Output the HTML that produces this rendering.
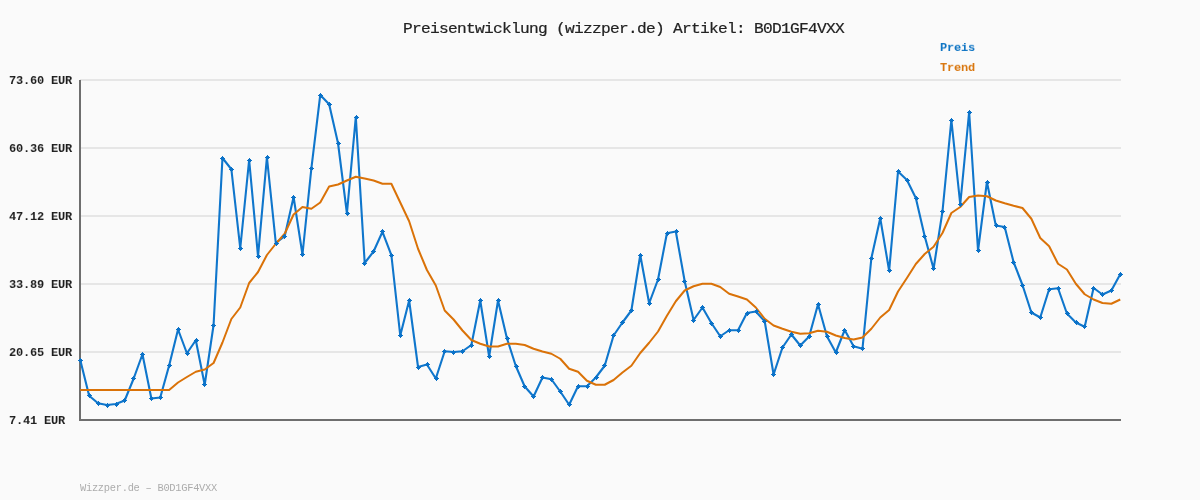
<!DOCTYPE html>
<html><head><meta charset="utf-8"><title>Preisentwicklung</title>
<style>
html,body{margin:0;padding:0;}
body{width:1200px;height:500px;background:#fafafa;position:relative;overflow:hidden;font-family:"Liberation Mono",monospace;}
.title,.yl,.lg,.ft{will-change:transform;}
.title{position:absolute;left:402.6px;top:21px;font-size:14.5px;line-height:17px;color:#222;white-space:pre;letter-spacing:-0.64px;transform:scaleX(1.1165);transform-origin:0 0;-webkit-text-stroke:0.2px #222;}
.yl{position:absolute;left:9.2px;font-size:12px;line-height:16px;font-weight:bold;color:#1e1e1e;white-space:pre;letter-spacing:-0.2px;transform:scaleY(0.889);transform-origin:0 11px;}
.lg{position:absolute;left:939.6px;font-size:12px;line-height:16px;font-weight:bold;white-space:pre;letter-spacing:-0.2px;transform:scaleY(0.889);transform-origin:0 11px;}
.ft{position:absolute;left:80px;top:481.6px;font-size:10.4px;line-height:12px;color:#acacac;white-space:pre;letter-spacing:-0.28px;}
svg{position:absolute;left:0;top:0;}
</style></head><body>
<svg width="1200" height="500" viewBox="0 0 1200 500">
<rect x="80" y="79" width="1041" height="2" fill="#e6e6e6"/><rect x="80" y="147" width="1041" height="2" fill="#e6e6e6"/><rect x="80" y="215" width="1041" height="2" fill="#e6e6e6"/><rect x="80" y="283" width="1041" height="2" fill="#e6e6e6"/><rect x="80" y="351" width="1041" height="2" fill="#e6e6e6"/>
<rect x="79" y="80" width="2" height="341" fill="#6e6e6e"/>
<rect x="79" y="419" width="1042" height="2" fill="#6e6e6e"/>
<polyline points="80.25,360.00 89.14,395.75 98.03,403.25 106.92,405.00 115.81,404.00 124.69,400.50 133.58,378.75 142.47,354.25 151.36,398.50 160.25,397.50 169.14,365.50 178.03,329.50 186.92,353.25 195.81,340.25 204.69,384.75 213.58,325.00 222.47,158.00 231.36,169.25 240.25,248.25 249.14,160.00 258.03,256.25 266.92,157.25 275.81,243.00 284.69,236.25 293.58,197.00 302.47,254.50 311.36,168.50 320.25,95.00 329.14,104.25 338.03,143.25 346.92,213.25 355.81,117.00 364.69,263.00 373.58,251.50 382.47,231.75 391.36,255.00 400.25,335.50 409.14,300.50 418.03,367.00 426.92,364.50 435.81,378.50 444.69,351.25 453.58,352.00 462.47,351.25 471.36,345.00 480.25,300.50 489.14,356.50 498.03,300.50 506.92,338.25 515.81,366.00 524.69,386.50 533.58,396.50 542.47,377.50 551.36,379.25 560.25,391.50 569.14,404.75 578.03,386.25 586.92,386.25 595.81,377.50 604.69,365.75 613.58,335.50 622.47,322.50 631.36,310.50 640.25,255.00 649.14,303.25 658.03,279.50 666.92,233.25 675.81,231.50 684.69,281.25 693.58,320.00 702.47,307.50 711.36,323.00 720.25,336.25 729.14,330.25 738.03,330.25 746.92,313.00 755.81,311.50 764.69,321.25 773.58,374.50 782.47,347.50 791.36,334.50 800.25,345.50 809.14,336.50 818.03,304.25 826.92,336.25 835.81,352.50 844.69,330.00 853.58,346.25 862.47,348.75 871.36,258.25 880.25,218.25 889.14,270.75 898.03,171.50 906.92,180.00 915.81,198.00 924.69,236.25 933.58,268.75 942.47,211.50 951.36,120.00 960.25,204.25 969.14,112.00 978.03,250.50 986.92,182.00 995.81,225.50 1004.69,227.00 1013.58,262.00 1022.47,285.00 1031.36,312.50 1040.25,317.50 1049.14,289.25 1058.03,288.25 1066.92,313.50 1075.81,322.50 1084.69,326.75 1093.58,288.00 1102.47,294.50 1111.36,290.50 1120.25,274.25" fill="none" stroke="#0f76cc" stroke-width="2.1" stroke-linejoin="round"/>
<polyline points="80.25,390.00 89.14,390.00 98.03,390.00 106.92,390.00 115.81,390.00 124.69,390.00 133.58,390.00 142.47,390.00 151.36,390.00 160.25,390.00 169.14,390.00 178.03,382.50 186.92,377.00 195.81,371.75 204.69,369.50 213.58,363.00 222.47,342.50 231.36,319.00 240.25,307.50 249.14,283.00 258.03,272.00 266.92,255.00 275.81,243.75 284.69,233.75 293.58,214.50 302.47,207.00 311.36,208.75 320.25,202.50 329.14,186.50 338.03,184.50 346.92,180.50 355.81,176.75 364.69,178.50 373.58,180.50 382.47,183.75 391.36,183.75 400.25,202.50 409.14,221.25 418.03,248.75 426.92,270.00 435.81,285.50 444.69,310.50 453.58,319.50 462.47,330.50 471.36,340.00 480.25,343.75 489.14,346.50 498.03,346.50 506.92,343.75 515.81,343.75 524.69,345.00 533.58,348.75 542.47,351.50 551.36,353.75 560.25,358.75 569.14,368.75 578.03,371.75 586.92,380.75 595.81,384.75 604.69,384.75 613.58,380.00 622.47,372.50 631.36,365.75 640.25,353.00 649.14,342.75 658.03,331.50 666.92,315.75 675.81,301.25 684.69,290.50 693.58,286.25 702.47,283.75 711.36,283.75 720.25,287.00 729.14,293.75 738.03,296.50 746.92,299.50 755.81,307.50 764.69,318.75 773.58,325.50 782.47,328.75 791.36,331.75 800.25,333.75 809.14,333.25 818.03,330.75 826.92,331.75 835.81,335.50 844.69,338.00 853.58,339.50 862.47,337.50 871.36,328.75 880.25,317.50 889.14,310.00 898.03,291.50 906.92,278.00 915.81,264.00 924.69,254.00 933.58,246.75 942.47,233.00 951.36,213.00 960.25,207.00 969.14,197.00 978.03,195.50 986.92,196.25 995.81,200.50 1004.69,203.25 1013.58,205.75 1022.47,208.00 1031.36,218.75 1040.25,238.00 1049.14,246.25 1058.03,263.75 1066.92,269.50 1075.81,283.75 1084.69,294.25 1093.58,299.50 1102.47,303.00 1111.36,303.75 1120.25,299.50" fill="none" stroke="#da7208" stroke-width="2" stroke-linejoin="round"/>
<path d="M80.0 358.0h1v1h1v1h1v1h-1v1h-1v1h-1v-1h-1v-1h-1v-1h1v-1h1zM89.0 393.0h1v1h1v1h1v1h-1v1h-1v1h-1v-1h-1v-1h-1v-1h1v-1h1zM98.0 401.0h1v1h1v1h1v1h-1v1h-1v1h-1v-1h-1v-1h-1v-1h1v-1h1zM107.0 403.0h1v1h1v1h1v1h-1v1h-1v1h-1v-1h-1v-1h-1v-1h1v-1h1zM116.0 402.0h1v1h1v1h1v1h-1v1h-1v1h-1v-1h-1v-1h-1v-1h1v-1h1zM124.0 398.0h1v1h1v1h1v1h-1v1h-1v1h-1v-1h-1v-1h-1v-1h1v-1h1zM133.0 376.0h1v1h1v1h1v1h-1v1h-1v1h-1v-1h-1v-1h-1v-1h1v-1h1zM142.0 352.0h1v1h1v1h1v1h-1v1h-1v1h-1v-1h-1v-1h-1v-1h1v-1h1zM151.0 396.0h1v1h1v1h1v1h-1v1h-1v1h-1v-1h-1v-1h-1v-1h1v-1h1zM160.0 395.0h1v1h1v1h1v1h-1v1h-1v1h-1v-1h-1v-1h-1v-1h1v-1h1zM169.0 363.0h1v1h1v1h1v1h-1v1h-1v1h-1v-1h-1v-1h-1v-1h1v-1h1zM178.0 327.0h1v1h1v1h1v1h-1v1h-1v1h-1v-1h-1v-1h-1v-1h1v-1h1zM187.0 351.0h1v1h1v1h1v1h-1v1h-1v1h-1v-1h-1v-1h-1v-1h1v-1h1zM196.0 338.0h1v1h1v1h1v1h-1v1h-1v1h-1v-1h-1v-1h-1v-1h1v-1h1zM204.0 382.0h1v1h1v1h1v1h-1v1h-1v1h-1v-1h-1v-1h-1v-1h1v-1h1zM213.0 323.0h1v1h1v1h1v1h-1v1h-1v1h-1v-1h-1v-1h-1v-1h1v-1h1zM222.0 156.0h1v1h1v1h1v1h-1v1h-1v1h-1v-1h-1v-1h-1v-1h1v-1h1zM231.0 167.0h1v1h1v1h1v1h-1v1h-1v1h-1v-1h-1v-1h-1v-1h1v-1h1zM240.0 246.0h1v1h1v1h1v1h-1v1h-1v1h-1v-1h-1v-1h-1v-1h1v-1h1zM249.0 158.0h1v1h1v1h1v1h-1v1h-1v1h-1v-1h-1v-1h-1v-1h1v-1h1zM258.0 254.0h1v1h1v1h1v1h-1v1h-1v1h-1v-1h-1v-1h-1v-1h1v-1h1zM267.0 155.0h1v1h1v1h1v1h-1v1h-1v1h-1v-1h-1v-1h-1v-1h1v-1h1zM276.0 241.0h1v1h1v1h1v1h-1v1h-1v1h-1v-1h-1v-1h-1v-1h1v-1h1zM284.0 234.0h1v1h1v1h1v1h-1v1h-1v1h-1v-1h-1v-1h-1v-1h1v-1h1zM293.0 195.0h1v1h1v1h1v1h-1v1h-1v1h-1v-1h-1v-1h-1v-1h1v-1h1zM302.0 252.0h1v1h1v1h1v1h-1v1h-1v1h-1v-1h-1v-1h-1v-1h1v-1h1zM311.0 166.0h1v1h1v1h1v1h-1v1h-1v1h-1v-1h-1v-1h-1v-1h1v-1h1zM320.0 93.0h1v1h1v1h1v1h-1v1h-1v1h-1v-1h-1v-1h-1v-1h1v-1h1zM329.0 102.0h1v1h1v1h1v1h-1v1h-1v1h-1v-1h-1v-1h-1v-1h1v-1h1zM338.0 141.0h1v1h1v1h1v1h-1v1h-1v1h-1v-1h-1v-1h-1v-1h1v-1h1zM347.0 211.0h1v1h1v1h1v1h-1v1h-1v1h-1v-1h-1v-1h-1v-1h1v-1h1zM356.0 115.0h1v1h1v1h1v1h-1v1h-1v1h-1v-1h-1v-1h-1v-1h1v-1h1zM364.0 261.0h1v1h1v1h1v1h-1v1h-1v1h-1v-1h-1v-1h-1v-1h1v-1h1zM373.0 249.0h1v1h1v1h1v1h-1v1h-1v1h-1v-1h-1v-1h-1v-1h1v-1h1zM382.0 229.0h1v1h1v1h1v1h-1v1h-1v1h-1v-1h-1v-1h-1v-1h1v-1h1zM391.0 253.0h1v1h1v1h1v1h-1v1h-1v1h-1v-1h-1v-1h-1v-1h1v-1h1zM400.0 333.0h1v1h1v1h1v1h-1v1h-1v1h-1v-1h-1v-1h-1v-1h1v-1h1zM409.0 298.0h1v1h1v1h1v1h-1v1h-1v1h-1v-1h-1v-1h-1v-1h1v-1h1zM418.0 365.0h1v1h1v1h1v1h-1v1h-1v1h-1v-1h-1v-1h-1v-1h1v-1h1zM427.0 362.0h1v1h1v1h1v1h-1v1h-1v1h-1v-1h-1v-1h-1v-1h1v-1h1zM436.0 376.0h1v1h1v1h1v1h-1v1h-1v1h-1v-1h-1v-1h-1v-1h1v-1h1zM444.0 349.0h1v1h1v1h1v1h-1v1h-1v1h-1v-1h-1v-1h-1v-1h1v-1h1zM453.0 350.0h1v1h1v1h1v1h-1v1h-1v1h-1v-1h-1v-1h-1v-1h1v-1h1zM462.0 349.0h1v1h1v1h1v1h-1v1h-1v1h-1v-1h-1v-1h-1v-1h1v-1h1zM471.0 343.0h1v1h1v1h1v1h-1v1h-1v1h-1v-1h-1v-1h-1v-1h1v-1h1zM480.0 298.0h1v1h1v1h1v1h-1v1h-1v1h-1v-1h-1v-1h-1v-1h1v-1h1zM489.0 354.0h1v1h1v1h1v1h-1v1h-1v1h-1v-1h-1v-1h-1v-1h1v-1h1zM498.0 298.0h1v1h1v1h1v1h-1v1h-1v1h-1v-1h-1v-1h-1v-1h1v-1h1zM507.0 336.0h1v1h1v1h1v1h-1v1h-1v1h-1v-1h-1v-1h-1v-1h1v-1h1zM516.0 364.0h1v1h1v1h1v1h-1v1h-1v1h-1v-1h-1v-1h-1v-1h1v-1h1zM524.0 384.0h1v1h1v1h1v1h-1v1h-1v1h-1v-1h-1v-1h-1v-1h1v-1h1zM533.0 394.0h1v1h1v1h1v1h-1v1h-1v1h-1v-1h-1v-1h-1v-1h1v-1h1zM542.0 375.0h1v1h1v1h1v1h-1v1h-1v1h-1v-1h-1v-1h-1v-1h1v-1h1zM551.0 377.0h1v1h1v1h1v1h-1v1h-1v1h-1v-1h-1v-1h-1v-1h1v-1h1zM560.0 389.0h1v1h1v1h1v1h-1v1h-1v1h-1v-1h-1v-1h-1v-1h1v-1h1zM569.0 402.0h1v1h1v1h1v1h-1v1h-1v1h-1v-1h-1v-1h-1v-1h1v-1h1zM578.0 384.0h1v1h1v1h1v1h-1v1h-1v1h-1v-1h-1v-1h-1v-1h1v-1h1zM587.0 384.0h1v1h1v1h1v1h-1v1h-1v1h-1v-1h-1v-1h-1v-1h1v-1h1zM596.0 375.0h1v1h1v1h1v1h-1v1h-1v1h-1v-1h-1v-1h-1v-1h1v-1h1zM604.0 363.0h1v1h1v1h1v1h-1v1h-1v1h-1v-1h-1v-1h-1v-1h1v-1h1zM613.0 333.0h1v1h1v1h1v1h-1v1h-1v1h-1v-1h-1v-1h-1v-1h1v-1h1zM622.0 320.0h1v1h1v1h1v1h-1v1h-1v1h-1v-1h-1v-1h-1v-1h1v-1h1zM631.0 308.0h1v1h1v1h1v1h-1v1h-1v1h-1v-1h-1v-1h-1v-1h1v-1h1zM640.0 253.0h1v1h1v1h1v1h-1v1h-1v1h-1v-1h-1v-1h-1v-1h1v-1h1zM649.0 301.0h1v1h1v1h1v1h-1v1h-1v1h-1v-1h-1v-1h-1v-1h1v-1h1zM658.0 277.0h1v1h1v1h1v1h-1v1h-1v1h-1v-1h-1v-1h-1v-1h1v-1h1zM667.0 231.0h1v1h1v1h1v1h-1v1h-1v1h-1v-1h-1v-1h-1v-1h1v-1h1zM676.0 229.0h1v1h1v1h1v1h-1v1h-1v1h-1v-1h-1v-1h-1v-1h1v-1h1zM684.0 279.0h1v1h1v1h1v1h-1v1h-1v1h-1v-1h-1v-1h-1v-1h1v-1h1zM693.0 318.0h1v1h1v1h1v1h-1v1h-1v1h-1v-1h-1v-1h-1v-1h1v-1h1zM702.0 305.0h1v1h1v1h1v1h-1v1h-1v1h-1v-1h-1v-1h-1v-1h1v-1h1zM711.0 321.0h1v1h1v1h1v1h-1v1h-1v1h-1v-1h-1v-1h-1v-1h1v-1h1zM720.0 334.0h1v1h1v1h1v1h-1v1h-1v1h-1v-1h-1v-1h-1v-1h1v-1h1zM729.0 328.0h1v1h1v1h1v1h-1v1h-1v1h-1v-1h-1v-1h-1v-1h1v-1h1zM738.0 328.0h1v1h1v1h1v1h-1v1h-1v1h-1v-1h-1v-1h-1v-1h1v-1h1zM747.0 311.0h1v1h1v1h1v1h-1v1h-1v1h-1v-1h-1v-1h-1v-1h1v-1h1zM756.0 309.0h1v1h1v1h1v1h-1v1h-1v1h-1v-1h-1v-1h-1v-1h1v-1h1zM764.0 319.0h1v1h1v1h1v1h-1v1h-1v1h-1v-1h-1v-1h-1v-1h1v-1h1zM773.0 372.0h1v1h1v1h1v1h-1v1h-1v1h-1v-1h-1v-1h-1v-1h1v-1h1zM782.0 345.0h1v1h1v1h1v1h-1v1h-1v1h-1v-1h-1v-1h-1v-1h1v-1h1zM791.0 332.0h1v1h1v1h1v1h-1v1h-1v1h-1v-1h-1v-1h-1v-1h1v-1h1zM800.0 343.0h1v1h1v1h1v1h-1v1h-1v1h-1v-1h-1v-1h-1v-1h1v-1h1zM809.0 334.0h1v1h1v1h1v1h-1v1h-1v1h-1v-1h-1v-1h-1v-1h1v-1h1zM818.0 302.0h1v1h1v1h1v1h-1v1h-1v1h-1v-1h-1v-1h-1v-1h1v-1h1zM827.0 334.0h1v1h1v1h1v1h-1v1h-1v1h-1v-1h-1v-1h-1v-1h1v-1h1zM836.0 350.0h1v1h1v1h1v1h-1v1h-1v1h-1v-1h-1v-1h-1v-1h1v-1h1zM844.0 328.0h1v1h1v1h1v1h-1v1h-1v1h-1v-1h-1v-1h-1v-1h1v-1h1zM853.0 344.0h1v1h1v1h1v1h-1v1h-1v1h-1v-1h-1v-1h-1v-1h1v-1h1zM862.0 346.0h1v1h1v1h1v1h-1v1h-1v1h-1v-1h-1v-1h-1v-1h1v-1h1zM871.0 256.0h1v1h1v1h1v1h-1v1h-1v1h-1v-1h-1v-1h-1v-1h1v-1h1zM880.0 216.0h1v1h1v1h1v1h-1v1h-1v1h-1v-1h-1v-1h-1v-1h1v-1h1zM889.0 268.0h1v1h1v1h1v1h-1v1h-1v1h-1v-1h-1v-1h-1v-1h1v-1h1zM898.0 169.0h1v1h1v1h1v1h-1v1h-1v1h-1v-1h-1v-1h-1v-1h1v-1h1zM907.0 178.0h1v1h1v1h1v1h-1v1h-1v1h-1v-1h-1v-1h-1v-1h1v-1h1zM916.0 196.0h1v1h1v1h1v1h-1v1h-1v1h-1v-1h-1v-1h-1v-1h1v-1h1zM924.0 234.0h1v1h1v1h1v1h-1v1h-1v1h-1v-1h-1v-1h-1v-1h1v-1h1zM933.0 266.0h1v1h1v1h1v1h-1v1h-1v1h-1v-1h-1v-1h-1v-1h1v-1h1zM942.0 209.0h1v1h1v1h1v1h-1v1h-1v1h-1v-1h-1v-1h-1v-1h1v-1h1zM951.0 118.0h1v1h1v1h1v1h-1v1h-1v1h-1v-1h-1v-1h-1v-1h1v-1h1zM960.0 202.0h1v1h1v1h1v1h-1v1h-1v1h-1v-1h-1v-1h-1v-1h1v-1h1zM969.0 110.0h1v1h1v1h1v1h-1v1h-1v1h-1v-1h-1v-1h-1v-1h1v-1h1zM978.0 248.0h1v1h1v1h1v1h-1v1h-1v1h-1v-1h-1v-1h-1v-1h1v-1h1zM987.0 180.0h1v1h1v1h1v1h-1v1h-1v1h-1v-1h-1v-1h-1v-1h1v-1h1zM996.0 223.0h1v1h1v1h1v1h-1v1h-1v1h-1v-1h-1v-1h-1v-1h1v-1h1zM1004.0 225.0h1v1h1v1h1v1h-1v1h-1v1h-1v-1h-1v-1h-1v-1h1v-1h1zM1013.0 260.0h1v1h1v1h1v1h-1v1h-1v1h-1v-1h-1v-1h-1v-1h1v-1h1zM1022.0 283.0h1v1h1v1h1v1h-1v1h-1v1h-1v-1h-1v-1h-1v-1h1v-1h1zM1031.0 310.0h1v1h1v1h1v1h-1v1h-1v1h-1v-1h-1v-1h-1v-1h1v-1h1zM1040.0 315.0h1v1h1v1h1v1h-1v1h-1v1h-1v-1h-1v-1h-1v-1h1v-1h1zM1049.0 287.0h1v1h1v1h1v1h-1v1h-1v1h-1v-1h-1v-1h-1v-1h1v-1h1zM1058.0 286.0h1v1h1v1h1v1h-1v1h-1v1h-1v-1h-1v-1h-1v-1h1v-1h1zM1067.0 311.0h1v1h1v1h1v1h-1v1h-1v1h-1v-1h-1v-1h-1v-1h1v-1h1zM1076.0 320.0h1v1h1v1h1v1h-1v1h-1v1h-1v-1h-1v-1h-1v-1h1v-1h1zM1084.0 324.0h1v1h1v1h1v1h-1v1h-1v1h-1v-1h-1v-1h-1v-1h1v-1h1zM1093.0 286.0h1v1h1v1h1v1h-1v1h-1v1h-1v-1h-1v-1h-1v-1h1v-1h1zM1102.0 292.0h1v1h1v1h1v1h-1v1h-1v1h-1v-1h-1v-1h-1v-1h1v-1h1zM1111.0 288.0h1v1h1v1h1v1h-1v1h-1v1h-1v-1h-1v-1h-1v-1h1v-1h1zM1120.0 272.0h1v1h1v1h1v1h-1v1h-1v1h-1v-1h-1v-1h-1v-1h1v-1h1z" fill="#0b72c8" shape-rendering="crispEdges"/>
</svg>
<div class="title">Preisentwicklung (wizzper.de) Artikel: B0D1GF4VXX</div>
<div class="yl" style="top:73px">73.60 EUR</div><div class="yl" style="top:141px">60.36 EUR</div><div class="yl" style="top:209px">47.12 EUR</div><div class="yl" style="top:277px">33.89 EUR</div><div class="yl" style="top:345px">20.65 EUR</div><div class="yl" style="top:413px">7.41 EUR</div>
<div class="lg" style="top:40px;color:#0f75c4">Preis</div>
<div class="lg" style="top:60px;color:#d9770f">Trend</div>
<div class="ft">Wizzper.de – B0D1GF4VXX</div>
</body></html>
